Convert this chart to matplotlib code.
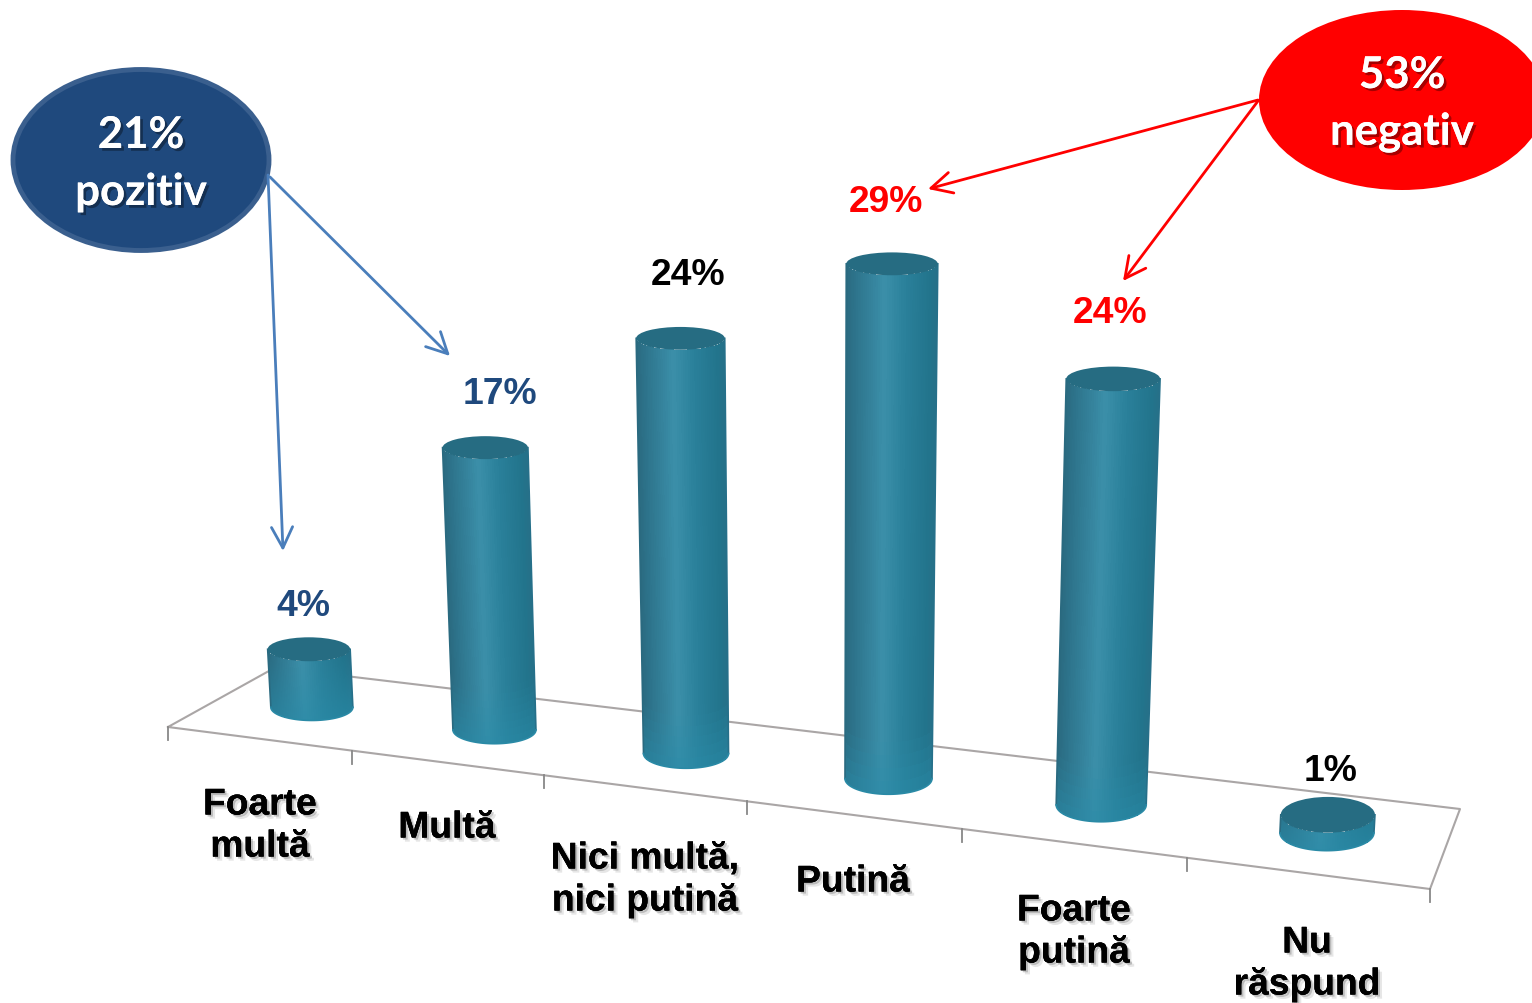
import numpy as np
import matplotlib
matplotlib.use('Agg')
import matplotlib.pyplot as plt
import matplotlib.patheffects as pe
from matplotlib.patches import Ellipse

# Data
categories = ['Foarte\nmultă', 'Multă', 'Nici multă,\nnici putină', 'Putină', 'Foarte\nputină', 'Nu\nrăspund']
values = [4, 17, 24, 29, 24, 1]
label_colors = ['#1f497d', '#1f497d', 'black', 'red', 'red', 'black']
pos_text = ['21%', 'pozitiv']
neg_text = ['53%', 'negativ']

# Picture layout: pixel coordinates of the perspective floor
floor_corners = [(168, 728), (1430, 890), (1460, 810), (275, 668.6)]
tick_u = [0, 1 / 6 - 0.0015, 2 / 6 - 0.004, 3 / 6 - 0.0045, 4 / 6 - 0.004, 5 / 6 - 0.004, 1]
px_per_value = [14.5, 16.6, 17.3, 17.75, 17.75, 18.0]
bar_radius = [41, 41.5, 42.5, 43.5, 45, 47]
vanish_x = 820
lean = 1e-4


def make_floor(corners):
    src = [(0, 0), (1, 0), (1, 1), (0, 1)]
    A, b = [], []
    for (u, v), (x, y) in zip(src, corners):
        A.append([u, v, 1, 0, 0, 0, -u * x, -v * x])
        A.append([0, 0, 0, u, v, 1, -u * y, -v * y])
        b += [x, y]
    return np.append(np.linalg.solve(np.array(A, float), np.array(b, float)), 1).reshape(3, 3)


H = make_floor(floor_corners)


def floor_xy(u, v):
    p = H @ np.array([u, v, 1.0])
    return p[0] / p[2], p[1] / p[2]


def ratio_at(y):
    return np.interp(y, [266, 650, 815], [0.25, 0.29, 0.38])


stops = [0, 0.12, 0.42, 0.65, 0.92, 1]
stop_cols = np.array([[0x2a, 0x6a, 0x80], [0x2e, 0x75, 0x8d], [0x3b, 0x8f, 0xa9],
                      [0x2a, 0x80, 0x9a], [0x22, 0x74, 0x8c], [0x26, 0x70, 0x88]]) / 255
bottom_col = np.array([0x28, 0x8b, 0xa8]) / 255


def draw_cylinder(ax, x0, y0, r, h):
    x1 = x0 + (x0 - vanish_x) * lean * h
    y1 = y0 - h
    r1 = r * (1 + lean * h)
    b0, b1 = r * ratio_at(y0), r1 * ratio_at(y1)
    th = np.linspace(np.pi, 0, 61)
    t = np.linspace(0, 1, 41)
    T, TH = np.meshgrid(t, th, indexing='ij')
    X = (x1 + (x0 - x1) * T) + (r1 + (r - r1) * T) * np.cos(TH)
    Y = (y1 + (y0 - y1) * T) + (b1 + (b0 - b1) * T) * np.sin(TH)
    across = (1 + np.cos(0.5 * (th[:-1] + th[1:]))) / 2
    col = np.stack([np.interp(across, stops, stop_cols[:, k]) for k in range(3)], axis=-1)
    tm = 0.5 * (t[:-1] + t[1:])
    # brighter teal close to the foot of the bar
    px_from_foot = (1 - tm) * h
    mix = np.clip(1 - px_from_foot / 55, 0, 1)[:, None, None] * 0.6
    rgb = col[None, :, :] * (1 - mix) + bottom_col * mix
    ax.pcolormesh(X, Y, rgb, shading='flat', zorder=3, antialiased=False, linewidth=0, edgecolors='none')
    # smooth outline over the hard mesh edge
    ax.plot(X[:, 0], Y[:, 0], color='#2a6a80', lw=1.2, zorder=3.5)
    ax.plot(X[:, -1], Y[:, -1], color='#26708a', lw=1.2, zorder=3.5)
    ax.plot(X[-1, :], Y[-1, :], color='#2a8aa6', lw=1.2, zorder=3.5)
    ax.add_patch(Ellipse((x1, y1), 2 * r1, 2 * b1, facecolor='#266c82', edgecolor='none', zorder=4))


fig = plt.figure(figsize=(15.32, 10.04), dpi=100)
ax = fig.add_axes([0, 0, 1, 1])
ax.set_xlim(0, 1532)
ax.set_ylim(1004, 0)
ax.axis('off')

# floor frame + ticks
cx = [c[0] for c in floor_corners] + [floor_corners[0][0]]
cy = [c[1] for c in floor_corners] + [floor_corners[0][1]]
ax.plot(cx, cy, color='#aaa6a6', lw=1.5, zorder=1)
for u in tick_u:
    x, y = floor_xy(u, 0)
    ax.plot([x, x], [y, y + 13], color='#888888', lw=1.3, zorder=1)

shadow = [pe.withSimplePatchShadow(offset=(3, -3), shadow_rgbFace='#777777', alpha=0.18),
          pe.withSimplePatchShadow(offset=(1.5, -1.5), shadow_rgbFace='#555555', alpha=0.3), pe.Normal()]
label_font = dict(family='Liberation Sans', weight='bold', fontsize=26.8)

label_pos = [(260, 827), (447, 829), (645, 881), (853, 883), (1074, 933), (1307, 965)]
value_pos = [(303, 607), (500, 395), (688, 276), (886, 202), (1110, 314), (1331, 772)]

for i, v in enumerate(values):
    x0, y0 = floor_xy((tick_u[i] + tick_u[i + 1]) / 2, 0.5)
    draw_cylinder(ax, x0, y0, bar_radius[i], v * px_per_value[i])
    ax.text(*value_pos[i], f'{v}%', color=label_colors[i], ha='center', va='center', zorder=6, **label_font)
    ax.text(*label_pos[i], categories[i], color='black', ha='center', va='center', linespacing=1.26,
            zorder=6, path_effects=shadow, **label_font)

# callouts
ax.add_patch(Ellipse((141, 161), 256, 181, facecolor='#1f497d', edgecolor='#3a5f8e', lw=3.5, zorder=5))
ax.add_patch(Ellipse((1402, 101), 286, 180, facecolor='#ff0000', edgecolor='none', zorder=5))

big_font = dict(family='Lato', weight='bold', fontsize=31.5, color='white', ha='center', va='center', zorder=7)
big_shadow = [pe.withSimplePatchShadow(offset=(2, -2), shadow_rgbFace='black', alpha=0.35), pe.Normal()]
ax.text(141, 136, pos_text[0], path_effects=big_shadow, **big_font)
ax.text(141, 193, pos_text[1], path_effects=big_shadow, **big_font)
ax.text(1402, 76, neg_text[0], path_effects=big_shadow, **big_font)
ax.text(1402, 133, neg_text[1], path_effects=big_shadow, **big_font)

arrows = [((268, 176), (283, 552), '#4a7ebb'), ((270, 178), (450, 357), '#4a7ebb'),
          ((1258, 101), (928, 190), '#ff0000'), ((1258, 102), (1123, 282), '#ff0000')]
for start, end, col in arrows:
    ax.annotate('', xy=end, xytext=start, zorder=6,
                arrowprops=dict(arrowstyle='->,head_length=0.75,head_width=0.38', color=col, lw=2,
                                mutation_scale=20, shrinkA=0, shrinkB=0))

fig.savefig('out.png', dpi=100)
